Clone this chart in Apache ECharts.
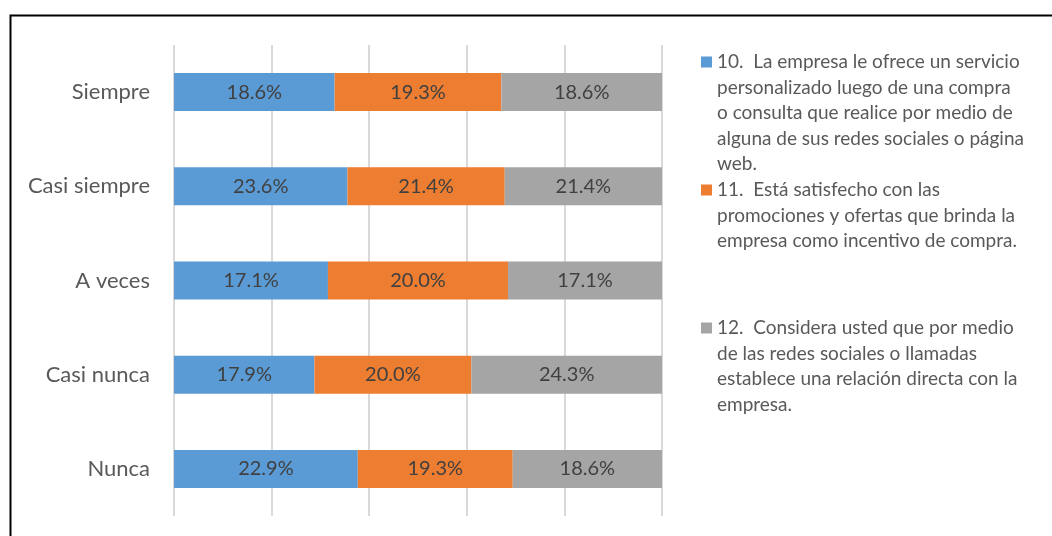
<!DOCTYPE html>
<html>
<head>
<meta charset="utf-8">
<script src="https://cdn.jsdelivr.net/npm/echarts@6/dist/echarts.min.js"></script>
<style>
  html, body { margin: 0; padding: 0; background: #ffffff; }
  #chart { width: 1052px; height: 536px; }
</style>
</head>
<body>
<div id="chart"></div>
<script>
// Response categories (top to bottom)
const categories = ['Siempre', 'Casi siempre', 'A veces', 'Casi nunca', 'Nunca'];

// Share of answers per question (%)
const q10 = [18.6, 23.6, 17.1, 17.9, 22.9];
const q11 = [19.3, 21.4, 20.0, 20.0, 19.3];
const q12 = [18.6, 21.4, 17.1, 24.3, 18.6];

// Question texts, wrapped as in the legend
const q10Lines = ['10.  La empresa le ofrece un servicio', 'personalizado luego de una compra', 'o consulta que realice por medio de', 'alguna de sus redes sociales o página', 'web.'];
const q11Lines = ['11.  Está satisfecho con las', 'promociones y ofertas que brinda la', 'empresa como incentivo de compra.'];
const q12Lines = ['12.  Considera usted que por medio', 'de las redes sociales o llamadas', 'establece una relación directa con la', 'empresa.'];

const colors = ['#5b9bd5', '#ed7d31', '#a5a5a5'];
const FONT = 'Lato';

const questions = [
  { values: q10, lines: q10Lines },
  { values: q11, lines: q11Lines },
  { values: q12, lines: q12Lines }
];

// Each row is drawn as a 100% stacked bar
const rowTotals = categories.map((_, i) => questions.reduce((s, q) => s + q.values[i], 0));

const series = questions.map((q, k) => ({
  name: q.lines.join(' '),
  type: 'bar',
  stack: 'total',
  barWidth: 38,
  itemStyle: { color: colors[k] },
  label: {
    show: true,
    position: 'inside',
    color: '#404040',
    fontFamily: FONT,
    fontSize: 20,
    formatter: p => q.values[p.dataIndex].toFixed(1) + '%'
  },
  data: q.values.map((v, i) => v / rowTotals[i] * 100)
}));

// Legend blocks: swatch aligned with the first text line
const LINE_H = 25.5;
const legendTops = [62, 190, 328];
const legendGraphics = [];
questions.forEach((q, k) => {
  const cy = legendTops[k];
  legendGraphics.push({
    type: 'rect',
    left: 701, top: cy - 5.5,
    shape: { width: 11, height: 11 },
    style: { fill: colors[k] }
  });
  legendGraphics.push({
    type: 'text',
    left: 717, top: cy - LINE_H / 2,
    style: {
      text: q.lines.join('\n'),
      fill: '#595959',
      font: '19px ' + FONT,
      lineHeight: LINE_H,
      verticalAlign: 'top'
    }
  });
});

// Outer frame of the chart area
legendGraphics.push({
  type: 'rect',
  left: 8, top: 13,
  shape: { width: 1060, height: 540 },
  style: { fill: 'none', stroke: '#000000', lineWidth: 2 },
  z: -1
});

const chart = echarts.init(document.getElementById('chart'), null, { renderer: 'canvas' });
chart.setOption({
  animation: false,
  backgroundColor: '#ffffff',
  grid: { left: 174, right: 390, top: 45, bottom: 20, containLabel: false },
  xAxis: {
    type: 'value',
    min: 0, max: 100, interval: 20,
    axisLabel: { show: false },
    axisLine: { show: false },
    axisTick: { show: false },
    splitLine: { show: true, lineStyle: { color: '#d9d9d9', width: 2 } }
  },
  yAxis: {
    type: 'category',
    data: categories,
    inverse: true,
    axisLine: { show: false },
    axisTick: { show: false },
    axisLabel: { color: '#595959', fontFamily: FONT, fontSize: 22, margin: 24 }
  },
  series: series,
  graphic: legendGraphics
});
</script>
</body>
</html>
